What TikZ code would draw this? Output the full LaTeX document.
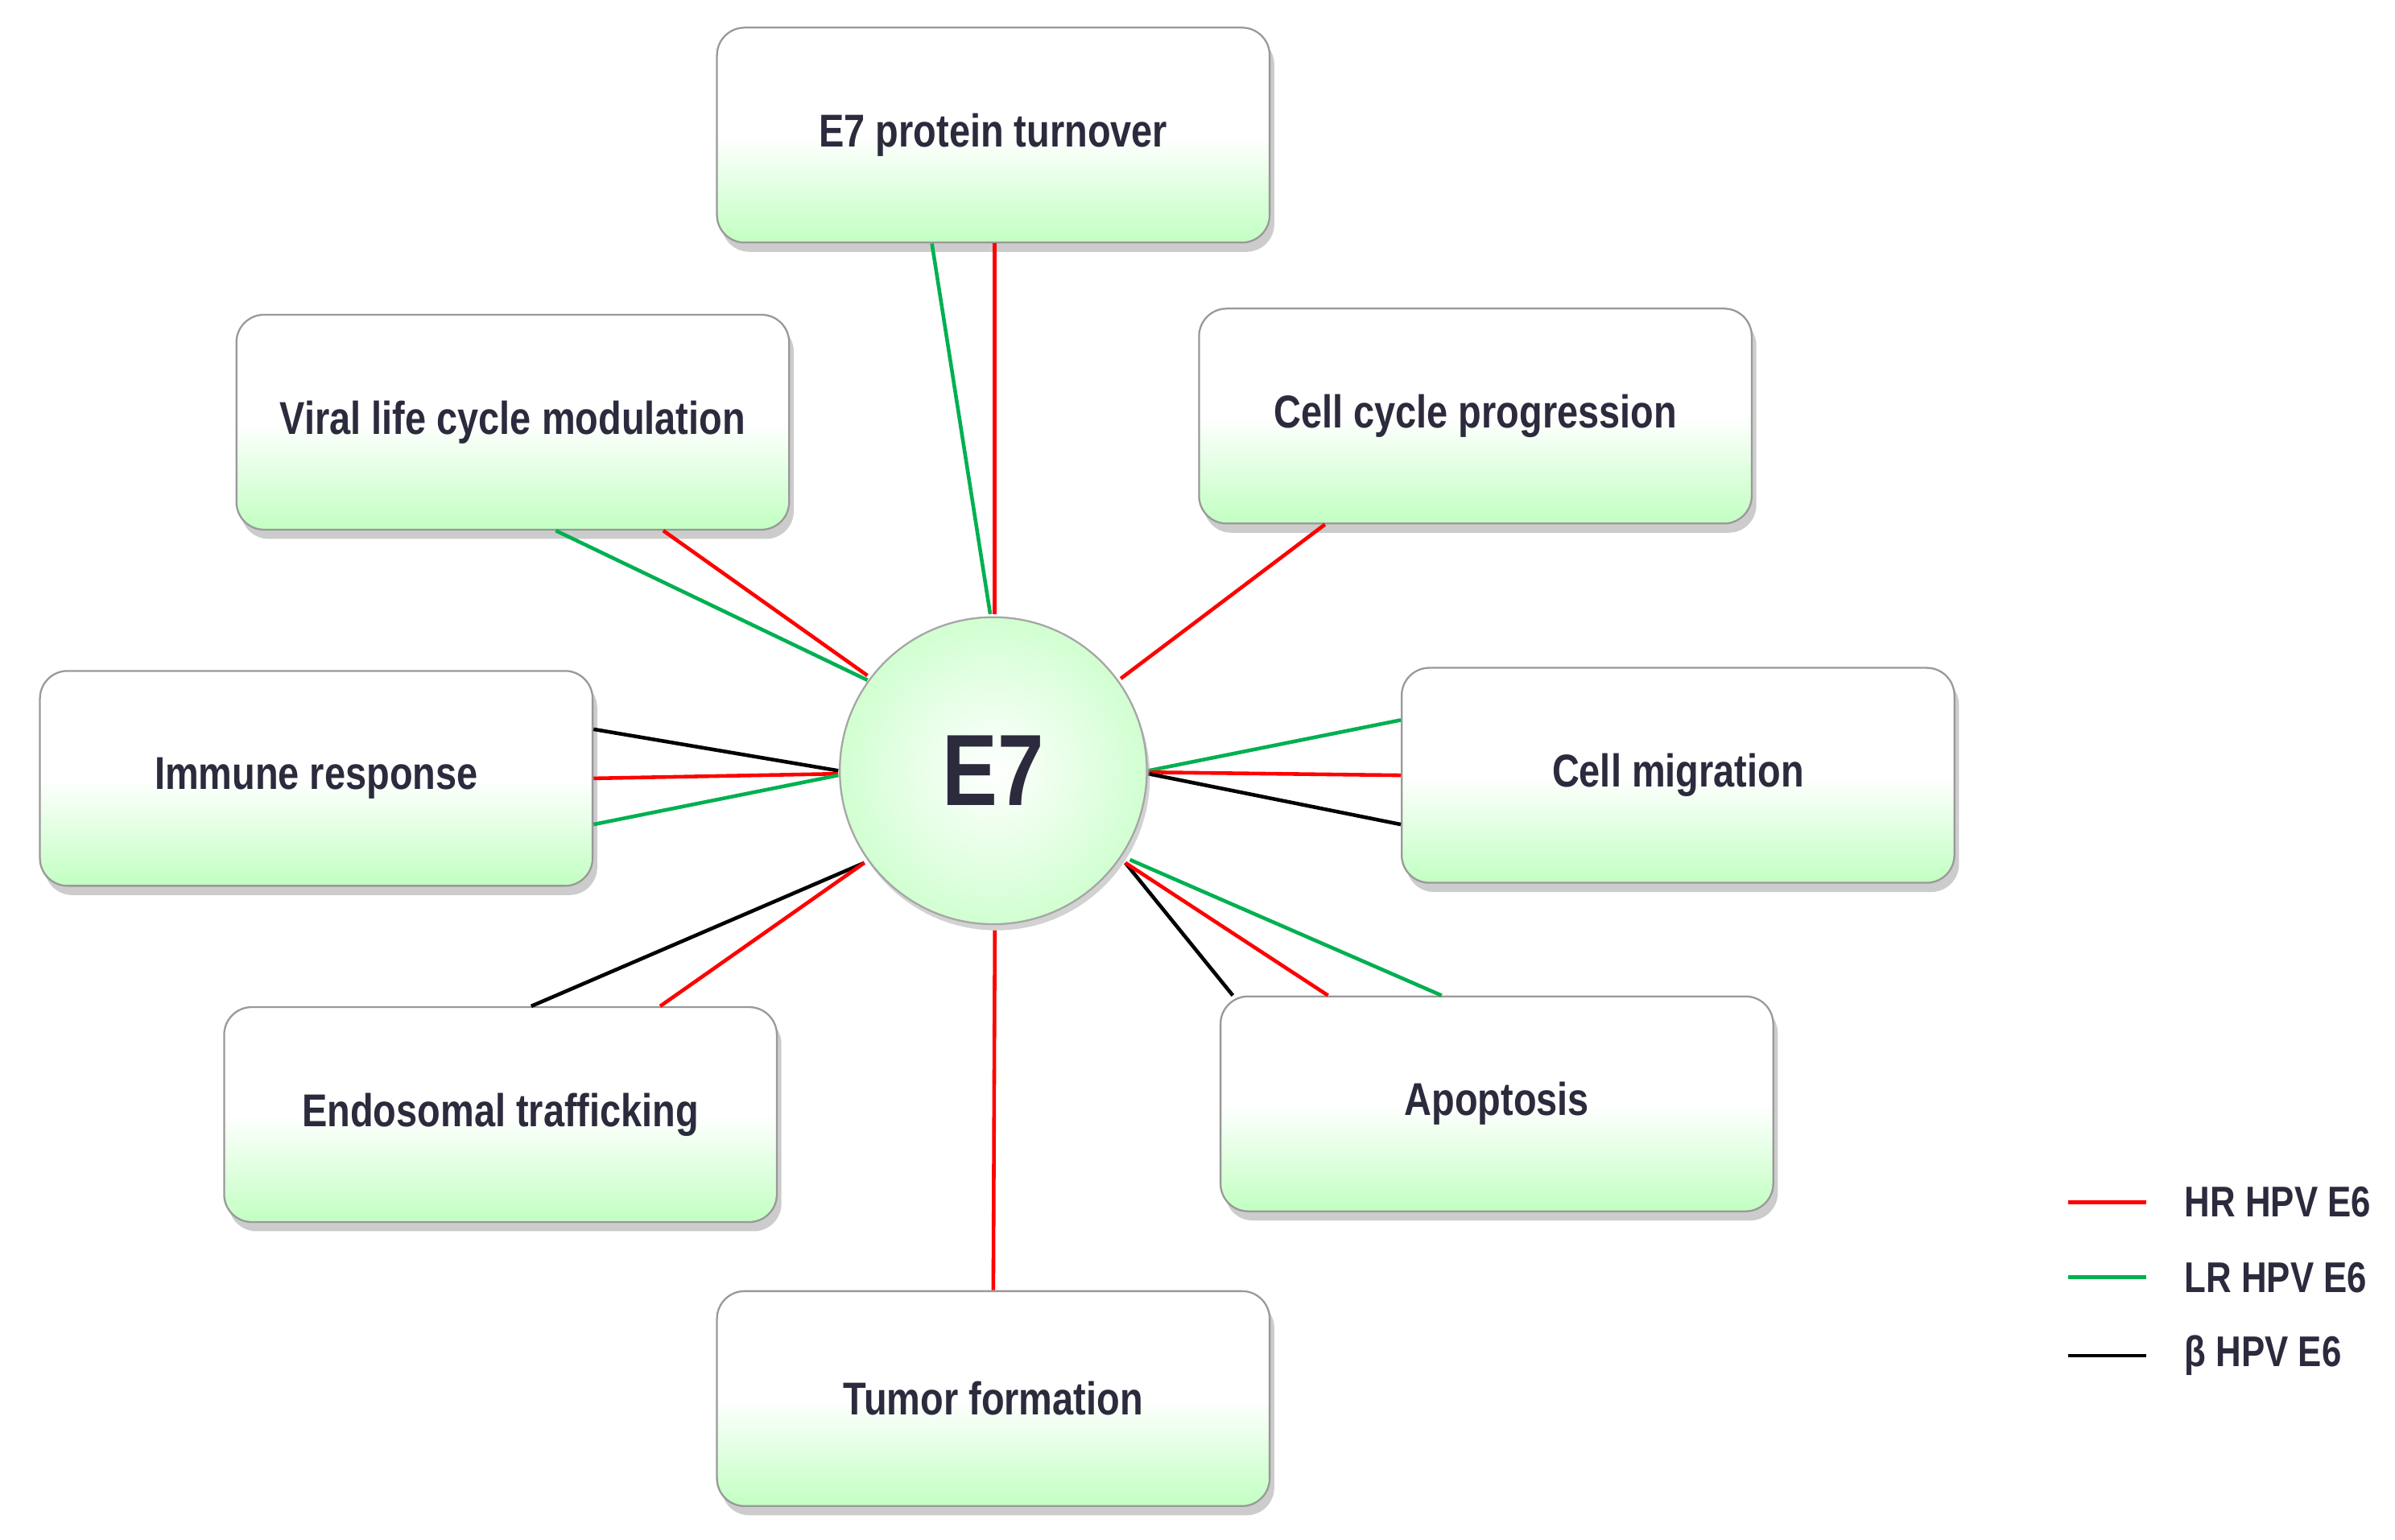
\documentclass[tikz,border=0pt]{standalone}
\usepackage{fontspec}
\setmainfont{Liberation Sans}[FakeStretch=0.82]
\usetikzlibrary{shadows,calc}
\definecolor{txt}{HTML}{2B2B3D}
\definecolor{lgreen}{HTML}{00B050}
\definecolor{lred}{HTML}{FF0000}
\tikzset{
 box/.style={draw=gray!80,line width=0.6pt,rounded corners=9pt,minimum width=180pt,minimum height=70pt,
   top color=white,bottom color=green!24,middle color=white,shading angle=0,
   drop shadow={shadow xshift=1.5pt,shadow yshift=-3pt,fill=black!40},
   font=\bfseries\fontsize{15}{17}\selectfont,text=txt},
 hub/.style={circle,draw=gray!70,line width=0.6pt,minimum size=100pt,inner color=white,outer color=green!18,
   drop shadow={shadow xshift=1pt,shadow yshift=-2pt,fill=black!35},
   font=\bfseries\fontsize{33}{36}\selectfont,text=txt},
 rl/.style={lred,line width=1.2pt},
 gl/.style={lgreen,line width=1.2pt},
 bl/.style={black,line width=1.2pt},
 leg/.style={anchor=west,font=\bfseries\fontsize{14}{16}\selectfont,text=txt}
}
\begin{document}
\begin{tikzpicture}[x=0.5pt,y=-0.5pt]
\useasboundingbox (0,0) rectangle (1560,1003);
\node[box] (turn) at (647,88) {E7 protein turnover};
\node[box] (viral) at (334,275) {Viral life cycle modulation};
\node[box] (cyc) at (961,271) {Cell cycle progression};
\node[box] (imm) at (206,507) {Immune response};
\node[box] (mig) at (1093,505) {Cell migration};
\node[box] (endo) at (326,726) {Endosomal trafficking};
\node[box] (apo) at (975,719) {Apoptosis};
\node[box] (tum) at (647,911) {Tumor formation};
\draw[gl] ([xshift=-20pt]turn.south) -- ([xshift=-1pt]647,400);
\draw[rl] ([xshift=0.5pt]turn.south) -- (648,400);
\draw[gl] ([xshift=14pt]viral.south) -- (565,443);
\draw[rl] ([xshift=49pt]viral.south) -- (565,440);
\draw[rl] ([xshift=-49pt]cyc.south) -- (730,442);
\draw[bl] ([yshift=16pt]imm.east) -- (546,502);
\draw[rl] (imm.east) -- (546,504);
\draw[gl] ([yshift=-15pt]imm.east) -- (546,505);
\draw[gl] ([yshift=18pt]mig.west) -- (748,502);
\draw[rl] (mig.west) -- (748,503);
\draw[bl] ([yshift=-16pt]mig.west) -- (748,504);
\draw[bl] ([xshift=10pt]endo.north) -- (563,562);
\draw[rl] ([xshift=52pt]endo.north) -- (563,562);
\draw[bl] ([xshift=-86pt]apo.north) -- (733,562);
\draw[rl] ([xshift=-55pt]apo.north) -- (733,562);
\draw[gl] ([xshift=-18pt]apo.north) -- (736,560);
\draw[rl] (tum.north) -- (648,606);
\node[hub] (e7) at (647,502) {E7};
\coordinate (l1a) at (1347,783); \coordinate (l1b) at (1398,783);
\coordinate (l2a) at (1347,832); \coordinate (l2b) at (1398,832);
\coordinate (l3a) at (1347,883); \coordinate (l3b) at (1398,883);
\draw[rl] (l1a) -- (l1b); \draw[gl] (l2a) -- (l2b); \draw[bl] (l3a) -- (l3b);
\node[leg] (t1) at (1416,783) {HR HPV E6};
\node[leg] (t2) at (1416,832) {LR HPV E6};
\node[leg] (t3) at (1416,883) {β HPV E6};
\end{tikzpicture}
\end{document}
